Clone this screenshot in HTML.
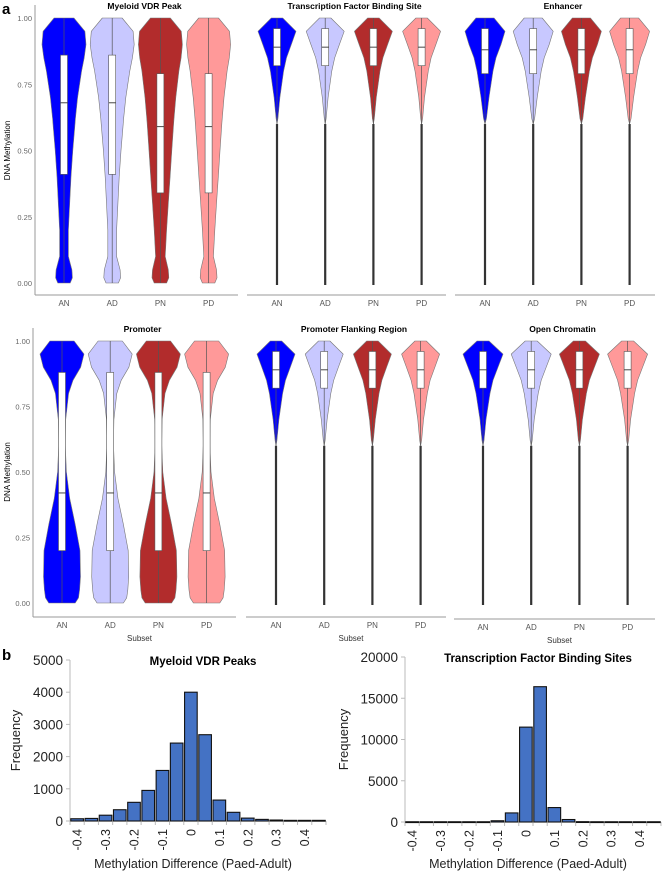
<!DOCTYPE html>
<html><head><meta charset="utf-8">
<style>
html,body{margin:0;padding:0;background:#fff;}
svg{display:block;font-family:"Liberation Sans",Arial,sans-serif;}
</style></head>
<body>
<svg id="fig" width="662" height="872" viewBox="0 0 662 872" xmlns="http://www.w3.org/2000/svg">
<text x="2" y="14" font-size="15" font-weight="bold">a</text>
<text x="2" y="660" font-size="15" font-weight="bold">b</text>
</svg>
<script>
const groups = ["AN","AD","PN","PD"];
const colors = ["#0000ff","#c8c8ff","#b22c2c","#ff9999"];
const yLevels = [0,0.02,0.05,0.1,0.2,0.3,0.4,0.5,0.6,0.62,0.7,0.8,0.85,0.9,0.95,1.0];
const densMyeloidN = [0.28,0.38,0.36,0.2,0.2,0.26,0.32,0.4,0.5,0.52,0.62,0.8,0.92,1.0,0.95,0.45];
const densMyeloidP = [0.28,0.38,0.36,0.22,0.28,0.36,0.44,0.52,0.6,0.62,0.7,0.84,0.94,1.0,0.95,0.45];
const densNarrow = [0.04,0.04,0.04,0.04,0.04,0.04,0.04,0.04,0.04,0.05,0.15,0.35,0.5,0.75,1.0,0.3];
const densEnh = [0.04,0.04,0.04,0.04,0.04,0.04,0.04,0.04,0.04,0.07,0.2,0.4,0.55,0.8,1.0,0.45];
const densProm = [0.6,0.75,0.8,0.84,0.82,0.6,0.35,0.2,0.15,0.15,0.17,0.3,0.5,0.85,1.0,0.55];
const boxMyeloidN = [0.41,0.68,0.86];
const boxMyeloidP = [0.34,0.59,0.79];
const boxNarrow = [0.82,0.89,0.96];
const boxEnh = [0.79,0.88,0.96];
const boxProm = [0.20,0.42,0.88];
const yTicks = [0,0.25,0.5,0.75,1.0];
const yTickLabels = ["0.00","0.25","0.50","0.75","1.00"];

const panels = [
 {title:"Myeloid VDR Peak", x0:64, top:18, bot:283, axisY:295, axL:35, axR:238, yaxis:true, hw:22, dens:[densMyeloidN,densMyeloidN,densMyeloidP,densMyeloidP], box:[boxMyeloidN,boxMyeloidN,boxMyeloidP,boxMyeloidP], tail:false, subset:false},
 {title:"Transcription Factor Binding Site", x0:277, top:18, bot:283, axisY:295, axL:247, axR:446, yaxis:false, hw:19, dens:[densNarrow,densNarrow,densNarrow,densNarrow], box:[boxNarrow,boxNarrow,boxNarrow,boxNarrow], tail:true, subset:false},
 {title:"Enhancer", x0:485, top:18, bot:283, axisY:295, axL:455, axR:655, yaxis:false, hw:20, dens:[densEnh,densEnh,densEnh,densEnh], box:[boxEnh,boxEnh,boxEnh,boxEnh], tail:true, subset:false},
 {title:"Promoter", x0:62, top:341, bot:603, axisY:617, axL:33, axR:236, yaxis:true, hw:22, dens:[densProm,densProm,densProm,densProm], box:[boxProm,boxProm,boxProm,boxProm], tail:false, subset:true},
 {title:"Promoter Flanking Region", x0:276, top:341, bot:603, axisY:617, axL:246, axR:446, yaxis:false, hw:19, dens:[densNarrow,densNarrow,densNarrow,densNarrow], box:[boxNarrow,boxNarrow,boxNarrow,boxNarrow], tail:true, subset:true},
 {title:"Open Chromatin", x0:483, top:341, bot:603, axisY:619, axL:454, axR:655, yaxis:false, hw:20, dens:[densNarrow,densNarrow,densNarrow,densNarrow], box:[boxNarrow,boxNarrow,boxNarrow,boxNarrow], tail:true, subset:true}
];
const svg = document.getElementById('fig');
const NS = "http://www.w3.org/2000/svg";
function mk(tag, attrs, parent){ const e=document.createElementNS(NS,tag); for(const k in attrs) e.setAttribute(k,attrs[k]); (parent||svg).appendChild(e); return e; }
const STEP = 48.2;

panels.forEach((p,pi)=>{
  const g = mk('g',{});
  
  
  const yS = v => p.bot - v*(p.bot-p.top);
  const t = mk('text',{x:(p.axL+p.axR)/2+8,y:p.top-9,'font-size':8.5,'font-weight':'bold','text-anchor':'middle'},g);
  t.textContent = p.title;
  
  
  mk('line',{x1:p.axL,x2:p.axR,y1:p.axisY,y2:p.axisY,stroke:'#999','stroke-width':1},g);
  if(p.yaxis){
    mk('line',{x1:p.axL,x2:p.axL,y1:p.top-13,y2:p.axisY,stroke:'#999','stroke-width':1},g);
    yTicks.forEach((v,i)=>{
      const tl = mk('text',{x:p.axL-3,y:yS(v)+3,'font-size':7.5,fill:'#666','text-anchor':'end'},g);
      tl.textContent = yTickLabels[i];
      
      
    });
    const yt = mk('text',{x:10,y:(p.top+p.bot)/2,'font-size':8,'text-anchor':'middle',transform:`rotate(-90 10 ${(p.top+p.bot)/2})`},g);
    yt.textContent = "DNA Methylation";
    
    
  }
  if(p.subset){
    const st = mk('text',{x:(p.axL+p.axR)/2+5,y:p.axisY+24,'font-size':8,fill:'#333','text-anchor':'middle'},g);
    st.textContent = "Subset";
    
    
  }
  groups.forEach((gn,gi)=>{
    const cx = p.x0 + gi*STEP;
    const tl = mk('text',{x:cx,y:p.axisY+11,'font-size':8,fill:'#555','text-anchor':'middle'},g);
    tl.textContent = gn;
    
    
    const d = p.dens[gi];
    let startIdx = 0;
    if(p.tail){ startIdx = d.findIndex((w,i)=> i>0 && w>0.04) - 1; }
    if(p.tail){
      const tailTop = yLevels[startIdx];
      const tail = mk('line',{x1:cx,x2:cx,y1:yS(0)+2,y2:yS(tailTop),stroke:'#333','stroke-width':2.2},g);
      
      
    }
    let right=[], left=[];
    for(let i=startIdx;i<yLevels.length;i++){
      const w = (p.tail && i===startIdx?0:d[i])*p.hw;
      right.push([cx+w,yS(yLevels[i])]);
      left.push([cx-w,yS(yLevels[i])]);
    }
    const pts = right.concat(left.reverse());
    const path = mk('path',{d:'M'+pts.map(q=>q[0].toFixed(1)+','+q[1].toFixed(1)).join('L')+'Z',fill:colors[gi],stroke:'#777','stroke-width':0.6,'stroke-linejoin':'round'},g);
    
    
    mk('line',{x1:cx,x2:cx,y1:yS(yLevels[startIdx]),y2:yS(1),stroke:'#555','stroke-width':0.7},g);
    const b = p.box[gi];
    const box = mk('rect',{x:cx-3.5,y:yS(b[2]),width:7,height:yS(b[0])-yS(b[2]),fill:'#fff',stroke:'#555','stroke-width':0.6},g);
    
    
    mk('line',{x1:cx-3.5,x2:cx+3.5,y1:yS(b[1]),y2:yS(b[1]),stroke:'#333','stroke-width':0.9},g);
  });
});

// Histograms
const binLabels = ["-0.4","-0.3","-0.2","-0.1","0","0.1","0.2","0.3","0.4"];
const vdrFreq = [70,80,180,350,580,950,1570,2420,4000,2680,650,270,90,50,30,20,20,20];
const tfbsFreq = [30,30,30,30,30,30,150,1100,11500,16400,1750,300,40,30,30,30,30,30];
const vdrTicks = [0,1000,2000,3000,4000,5000];
const tfbsTicks = [0,5000,10000,15000,20000];
const hists = [
 {title:"Myeloid VDR Peaks", freq:vdrFreq, ticks:vdrTicks, max:5000, x0:70, x1:326, top:660, bot:821, ylab:20},
 {title:"Transcription Factor Binding Sites", freq:tfbsFreq, ticks:tfbsTicks, max:20000, x0:405, x1:661, top:657, bot:822, ylab:348}
];
hists.forEach((h,hi)=>{
  const g = mk('g',{});
  
  
  const yS = v => h.bot - v/h.max*(h.bot-h.top);
  const bw = (h.x1-h.x0)/h.freq.length;
  mk('line',{x1:h.x0,x2:h.x0,y1:h.top,y2:h.bot,stroke:'#bbb','stroke-width':1},g);
  mk('line',{x1:h.x0,x2:h.x1,y1:h.bot,y2:h.bot,stroke:'#bbb','stroke-width':1},g);
  h.ticks.forEach(v=>{
    const tl = mk('text',{x:h.x0-7,y:yS(v)+5,'font-size':13.5,fill:'#222','text-anchor':'end'},g);
    tl.textContent = v;
    
    
    mk('line',{x1:h.x0-4,x2:h.x0,y1:yS(v),y2:yS(v),stroke:'#bbb'},g);
  });
  for(let i=0;i<=h.freq.length;i++) mk('line',{x1:h.x0+i*bw,x2:h.x0+i*bw,y1:h.bot,y2:h.bot+4,stroke:'#bbb'},g);
  h.freq.forEach((f,i)=>{
    const r = mk('rect',{x:h.x0+i*bw+0.8,y:yS(f),width:bw-1.6,height:Math.max(h.bot-yS(f),0.8),fill:'#4472c4',stroke:'#111','stroke-width':1.1},g);
    
    
  });
  binLabels.forEach((l,i)=>{
    const cx = h.x0 + (2*i+0.5)*bw;
    const ty = h.bot+8;
    const tl = mk('text',{x:cx+4.5,y:ty,'font-size':12.5,fill:'#222','text-anchor':'end',transform:`rotate(-90 ${cx+4.5} ${ty})`},g);
    tl.textContent = l;
    
    
  });
  const tt = mk('text',{x:(h.x0+h.x1)/2+5,y:h.top+5,'font-size':11.5,'font-weight':'bold','text-anchor':'middle'},g);
  tt.textContent = h.title;
  
  
  const xt = mk('text',{x:(h.x0+h.x1)/2-5,y:868,'font-size':12.5,fill:'#222','text-anchor':'middle'},g);
  xt.textContent = "Methylation Difference (Paed-Adult)";
  
  
  const ymid = (h.top+h.bot)/2;
  const yt = mk('text',{x:h.ylab,y:ymid,'font-size':13,fill:'#222','text-anchor':'middle',transform:`rotate(-90 ${h.ylab} ${ymid})`},g);
  yt.textContent = "Frequency";
  
  
});
</script>
</body></html>
